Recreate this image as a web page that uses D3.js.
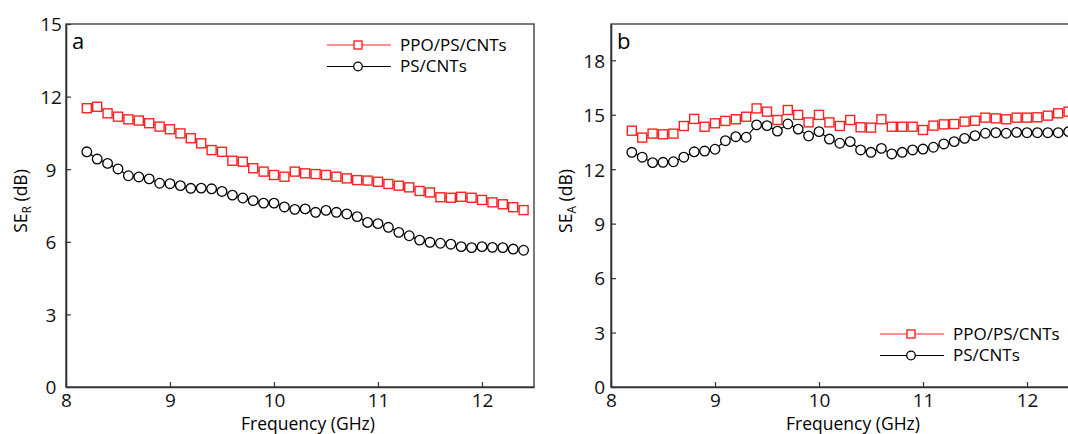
<!DOCTYPE html>
<html>
<head>
<meta charset="utf-8">
<script src="https://cdn.jsdelivr.net/npm/d3@7"></script>
<style>
  body { margin: 0; background: #fff; }
  svg { display: block; font-family: "Open Sans", "Noto Sans", sans-serif; }
  .tick text { font-size: 19px; fill: #111; }
</style>
</head>
<body>
<script>
// frequency points, 8.2 .. 12.4 GHz
const freq = d3.range(43).map(i => +(8.2 + i * 0.1).toFixed(1));

// panel a: SE_R
const seR_ppo = [11.52, 11.58, 11.31, 11.17, 11.06, 11.01, 10.90, 10.76, 10.65, 10.48,
  10.28, 10.07, 9.79, 9.72, 9.35, 9.31, 9.04, 8.90, 8.76, 8.69,
  8.90, 8.83, 8.80, 8.76, 8.69, 8.62, 8.55, 8.53, 8.48, 8.39,
  8.32, 8.25, 8.10, 8.04, 7.84, 7.82, 7.86, 7.82, 7.73, 7.63,
  7.55, 7.43, 7.31];
const seR_ps = [9.72, 9.42, 9.24, 9.01, 8.73, 8.68, 8.60, 8.42, 8.40, 8.32,
  8.21, 8.22, 8.19, 8.08, 7.93, 7.81, 7.70, 7.60, 7.60, 7.44,
  7.34, 7.36, 7.22, 7.30, 7.22, 7.15, 7.04, 6.80, 6.75, 6.60,
  6.39, 6.25, 6.07, 5.98, 5.94, 5.90, 5.80, 5.76, 5.80, 5.77,
  5.76, 5.70, 5.65];

// panel b: SE_A
const seA_ppo = [14.12, 13.74, 13.96, 13.92, 13.96, 14.38, 14.77, 14.34, 14.53, 14.66,
  14.75, 14.89, 15.35, 15.17, 14.71, 15.26, 14.99, 14.58, 14.99, 14.58,
  14.38, 14.71, 14.31, 14.29, 14.75, 14.34, 14.34, 14.34, 14.16, 14.40,
  14.47, 14.49, 14.62, 14.67, 14.84, 14.80, 14.75, 14.84, 14.84, 14.86,
  14.95, 15.08, 15.17];
const seA_ps = [12.93, 12.66, 12.36, 12.38, 12.41, 12.66, 12.96, 13.00, 13.10, 13.57,
  13.79, 13.76, 14.44, 14.40, 14.10, 14.49, 14.21, 13.83, 14.07, 13.66,
  13.43, 13.52, 13.06, 12.93, 13.15, 12.84, 12.93, 13.06, 13.11, 13.21,
  13.39, 13.52, 13.70, 13.85, 13.98, 14.01, 13.98, 14.03, 14.01, 14.01,
  14.01, 14.01, 14.07];

const xTicks = [8, 9, 10, 11, 12];
const yTicksA = [0, 3, 6, 9, 12, 15];
const yTicksB = [0, 3, 6, 9, 12, 15, 18];
const seriesNames = ['PPO/PS/CNTs', 'PS/CNTs'];

const W = 1068, H = 434;
const svg = d3.select('body').append('svg')
  .attr('width', W).attr('height', H);

let panel = (opt) => {
  let x = d3.scaleLinear().domain([8, 12.5]).range([opt.left, opt.left + 468]);
  let y = d3.scaleLinear().domain([0, opt.ymax]).range([387, 24]);
  let g = svg.append('g');

  // frame
  g.append('rect')
    .attr('x', opt.left).attr('y', 24)
    .attr('width', 468).attr('height', 363)
    .attr('fill', 'none').attr('stroke', '#333').attr('stroke-width', 1.3);

  let xAxis = g.append('g')
    .attr('transform', 'translate(0,387)')
    .call(d3.axisBottom(x).tickValues(xTicks).tickFormat(d3.format('d'))
      .tickSizeInner(-5).tickSizeOuter(0).tickPadding(7));
  let yAxis = g.append('g')
    .attr('transform', `translate(${opt.left},0)`)
    .call(d3.axisLeft(y).tickValues(opt.yTicks).tickSizeInner(-5).tickSizeOuter(0).tickPadding(6));
  [xAxis, yAxis].forEach(a => {
    a.select('.domain').attr('stroke', '#333').attr('stroke-width', 1.6);
    a.selectAll('.tick line').attr('stroke', '#333').attr('stroke-width', 1.2);
    a.selectAll('.tick text').attr('font-family', '"Open Sans", sans-serif');
  });
  yAxis.selectAll('.tick text').attr('dy', '0.36em');
  if (opt.centerY) {
    // panel a labels sit centred rather than flush right
    yAxis.selectAll('.tick text').attr('text-anchor', 'middle').attr('x', -15);
  }

  // axis titles
  g.append('text')
    .attr('x', opt.left + 242).attr('y', 430)
    .attr('text-anchor', 'middle').attr('font-size', 17.5)
    .text('Frequency (GHz)');
  let yl = g.append('text')
    .attr('transform', `translate(${opt.left - 39},201) rotate(-90)`)
    .attr('text-anchor', 'middle').attr('font-size', 17.5);
  yl.append('tspan').text('SE');
  yl.append('tspan').attr('font-size', 12).attr('dy', 4).text(opt.sub);
  yl.append('tspan').attr('dy', -4).text(' (dB)');

  g.append('text')
    .attr('x', opt.left + 6).attr('y', 49)
    .attr('font-size', 22).text(opt.letter);

  let clipId = 'clip' + opt.letter;
  g.append('clipPath').attr('id', clipId)
    .append('rect').attr('x', opt.left).attr('y', 10).attr('width', 480).attr('height', 390);

  let line = d3.line().x((d, i) => x(freq[i])).y(d => y(d));
  let plot = g.append('g').attr('clip-path', `url(#${clipId})`);

  // PS/CNTs (black circles)
  plot.append('path').datum(opt.ps)
    .attr('d', line).attr('fill', 'none').attr('stroke', '#000').attr('stroke-width', 1.1);
  plot.selectAll('circle.ps').data(opt.ps).enter().append('circle')
    .attr('class', 'ps')
    .attr('cx', (d, i) => x(freq[i])).attr('cy', d => y(d)).attr('r', 4.8)
    .attr('fill', '#fff').attr('stroke', '#000').attr('stroke-width', 1.3);

  // PPO/PS/CNTs (red squares)
  plot.append('path').datum(opt.ppo)
    .attr('d', line).attr('fill', 'none').attr('stroke', '#f22').attr('stroke-width', 1.1);
  plot.selectAll('rect.ppo').data(opt.ppo).enter().append('rect')
    .attr('class', 'ppo')
    .attr('x', (d, i) => x(freq[i]) - 4.5).attr('y', d => y(d) - 4.5)
    .attr('width', 9).attr('height', 9)
    .attr('fill', '#fff').attr('stroke', '#f22').attr('stroke-width', 1.4);

  // legend
  let lg = g.append('g').attr('transform', `translate(${opt.legX},${opt.legY})`);
  seriesNames.forEach((name, k) => {
    let row = lg.append('g').attr('transform', `translate(0,${k * 21.5})`);
    let col = k === 0 ? '#f22' : '#000';
    row.append('line').attr('x1', 0).attr('x2', 64).attr('y1', 0).attr('y2', 0)
      .attr('stroke', col).attr('stroke-width', 1.1);
    if (k === 0) {
      row.append('rect').attr('x', 27).attr('y', -4).attr('width', 8).attr('height', 8)
        .attr('fill', '#fff').attr('stroke', col).attr('stroke-width', 1.4);
    } else {
      row.append('circle').attr('cx', 31).attr('cy', 0).attr('r', 4.3)
        .attr('fill', '#fff').attr('stroke', col).attr('stroke-width', 1.3);
    }
    row.append('text').attr('x', 73).attr('y', 0).attr('dy', '0.35em')
      .attr('font-size', 17).text(name);
  });
};

panel({ left: 66, ymax: 15, yTicks: yTicksA, ppo: seR_ppo, ps: seR_ps, sub: 'R', letter: 'a', legX: 327, legY: 45, centerY: true });
panel({ left: 611, ymax: 20, yTicks: yTicksB, ppo: seA_ppo, ps: seA_ps, sub: 'A', letter: 'b', legX: 880, legY: 334, centerY: false });
</script>
</body>
</html>
